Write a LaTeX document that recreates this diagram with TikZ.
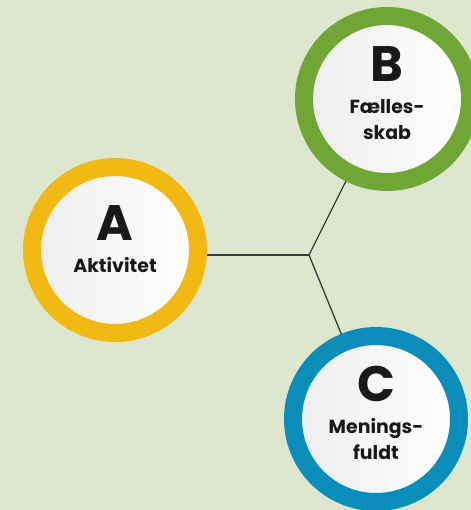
\documentclass[tikz,border=0pt]{standalone}
\usepackage{fontspec}
\setmainfont{Poppins}
\usetikzlibrary{backgrounds}
\definecolor{bgreen}{HTML}{DCE7CD}
\definecolor{ringA}{HTML}{F2B814}
\definecolor{ringB}{HTML}{6FA635}
\definecolor{ringC}{HTML}{0B8DB9}
\definecolor{linegray}{HTML}{3A3A3A}
\tikzset{
  ring/.style={circle, line width=18bp, minimum size=166bp, inner sep=0pt,
    left color=gray!14, right color=white, align=center,
    font=\bfseries\fontsize{19}{26}\selectfont, text=black!90}
}
\newcommand{\bigletter}[1]{{\fontsize{50}{50}\selectfont #1}\\[6bp]}
\begin{document}
\begin{tikzpicture}[x=1bp, y=-1bp]
\useasboundingbox (0,0) rectangle (471,510);
\clip (0,0) rectangle (471,510);
\node[ring, draw=ringA] (a) at (115,250) {\bigletter{A}Aktivitet\\[-4bp]};
\node[ring, draw=ringB] (b) at (387,99) {\bigletter{B}Fælles-\\skab\\[-14bp]};
\node[ring, draw=ringC] (c) at (376,419) {\bigletter{C}Menings-\\fuldt\\[-14bp]};
\coordinate (j) at (309,255);
\begin{scope}[on background layer]
\fill[bgreen](0,0) rectangle (471,510);
\draw[linegray, line width=1.3bp](j)--(j-|a.center);
\draw[linegray, line width=1.3bp](j)--(b.center);
\draw[linegray, line width=1.3bp](j)--(c.center);
\end{scope}
\end{tikzpicture}
\end{document}
